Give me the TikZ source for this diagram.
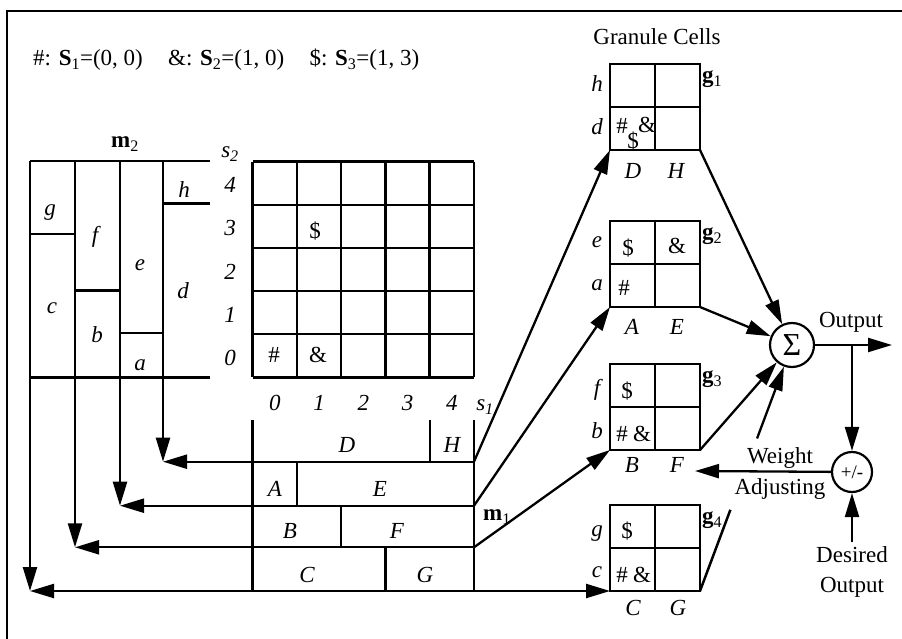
\documentclass[tikz,border=0pt]{standalone}
\usepackage{fontspec}
\setmainfont{Liberation Serif}
\usetikzlibrary{arrows.meta,calc}
\begin{document}
\begin{tikzpicture}[x=1pt,y=-1pt,
  font=\fontsize{23}{27}\selectfont,
  ln/.style={line width=2.5pt},
  thin/.style={line width=1.6pt},
  arr/.style={line width=2.3pt,-{Triangle[length=24pt,width=14pt]}},
  lbl/.style={inner sep=0pt,text height=15pt,text depth=4pt,anchor=center},
  it/.style={lbl,font=\fontsize{23}{27}\selectfont\itshape},
  circ/.style={circle,draw,line width=2.2pt,inner sep=0pt}]
\useasboundingbox (0,0) rectangle (902,639);
% frame
\draw[thin] (902,11) -- (7,11) -- (7,639);
% legend
\node[lbl,anchor=west] (legend) at (33,60) {\#: \textbf{S}\textsubscript{1}=(0, 0)\hspace{1.1em}\&: \textbf{S}\textsubscript{2}=(1, 0)\hspace{1.1em}\$: \textbf{S}\textsubscript{3}=(1, 3)};
% ---------- main grid ----------
\foreach \i in {0,...,5}{
  \draw[ln] (252.7+44.26*\i,161.7) -- (252.7+44.26*\i,377.3);
  \draw[ln] (252.7,161.7+43.12*\i) -- (474,161.7+43.12*\i);
}
\foreach \n/\i in {4/0,3/1,2/2,1/3,0/4}{
  \node[it] (row\n) at (230,183.3+43.12*\i+4) {\n};
  \node[it] (col\n) at (274.8+44.26*\n,405) {\n};
}
\node[it] (s2lbl) at (230,152) {s\textsubscript{2}};
\node[it] (s1lbl) at (485,405) {s\textsubscript{1}};
\node[lbl] (gh) at (274,357) {\#};
\node[lbl] (ga) at (318,357) {\&};
\node[lbl] (gd) at (315,233) {\$};
% ---------- m2 structure ----------
\node[lbl] (m2lbl) at (125,142) {\textbf{m}\textsubscript{2}};
\coordinate (t1) at (163,161);
\coordinate (t2) at (120,161);
\coordinate (t3) at (75,161);
\coordinate (t4) at (30,161);
\draw[ln] (30,161) -- (210,161);
\draw[ln] (30,377.3) -- (210,377.3);
\draw[ln] (163,203.5) -- (210,203.5);
\draw[ln] (30,234) -- (75,234);
\draw[ln] (75,290.7) -- (120,290.7);
\draw[ln] (120,333) -- (163,333);
\node[it] (lg) at (50,210) {g};
\node[it] (lf) at (95,237) {f};
\node[it] (le) at (140,265) {e};
\node[it] (ld) at (183,293) {d};
\node[it] (lh) at (184,192) {h};
\node[it] (lc) at (52,308) {c};
\node[it] (lb) at (97,337) {b};
\node[it] (la) at (140,365) {a};
% ---------- m1 structure ----------
\coordinate (r1) at (474,461.7);
\coordinate (r2) at (474,505.7);
\coordinate (r3) at (474,547.3);
\coordinate (r4) at (474,591);
\coordinate (c1) at (163,461.7);
\coordinate (c2) at (120,505.7);
\coordinate (c3) at (75,547.3);
\coordinate (c4) at (30,591);
\draw[ln] (252.7,420) -- (252.7,591);
\draw[ln] (474,420) -- (474,591);
\draw[ln] (430,420) -- (430,461.7);
\draw[ln] (297,461.7) -- (297,505.7);
\draw[ln] (341.2,505.7) -- (341.2,547.3);
\draw[ln] (385.5,547.3) -- (385.5,591);
\node[it] (lD) at (347,447) {D};
\node[it] (lH) at (452,447) {H};
\node[it] (lA) at (275,491) {A};
\node[it] (lE) at (380,491) {E};
\node[it] (lB) at (290,533) {B};
\node[it] (lF) at (397,533) {F};
\node[it] (lC) at (307,577) {C};
\node[it] (lG) at (425,577) {G};
\node[lbl] (m1lbl) at (497,515) {\textbf{m}\textsubscript{1}};
\draw[arr] (t1) -- (c1);
\draw[arr] (t2) -- (c2);
\draw[arr] (t3) -- (c3);
\draw[arr] (t4) -- (c4);
\draw[arr] (r1) -- (c1);
\draw[arr] (r2) -- (c2);
\draw[arr] (r3) -- (c3);
\draw[arr] (r4) -- (c4);
% ---------- granule cells ----------
\node[lbl] (gc) at (657,39) {Granule Cells};
\foreach \y/\n in {64/1,221/2,364/3,505/4}{
  \draw[ln] (610,\y) rectangle (700,\y+86);
  \draw[ln] (655,\y) -- (655,\y+86);
  \draw[ln] (610,\y+43) -- (700,\y+43);
  \coordinate (g\n bl) at (610,\y+86);
  \coordinate (g\n br) at (700,\y+86);
  \node[lbl,anchor=west] (g\n lbl) at (702,\y+13) {\textbf{g}\textsubscript{\n}};
}
% g1
\node[it] (g1r1) at (597,86) {h};
\node[it] (g1r2) at (597,129) {d};
\node[it] (g1c1) at (633,173) {D};
\node[it] (g1c2) at (676,173) {H};
\node[lbl] (g1x) at (622,128) {\#};
\node[lbl] (g1y) at (633,143) {\$};
\node[lbl] (g1z) at (647,127) {\&};
% g2
\node[it] (g2r1) at (597,242) {e};
\node[it] (g2r2) at (597,285) {a};
\node[it] (g2c1) at (632,329) {A};
\node[it] (g2c2) at (677,329) {E};
\node[lbl] (g2x) at (628,250) {\$};
\node[lbl] (g2y) at (677,248) {\&};
\node[lbl] (g2z) at (624,290) {\#};
% g3
\node[it] (g3r1) at (597,390) {f};
\node[it] (g3r2) at (597,433) {b};
\node[it] (g3c1) at (632,467) {B};
\node[it] (g3c2) at (677,467) {F};
\node[lbl] (g3x) at (627,393) {\$};
\node[lbl] (g3y) at (622,436) {\#};
\node[lbl] (g3z) at (642,436) {\&};
% g4
\node[it] (g4r1) at (597,531) {g};
\node[it] (g4r2) at (597,572) {c};
\node[it] (g4c1) at (633,610) {C};
\node[it] (g4c2) at (678,610) {G};
\node[lbl] (g4x) at (627,533) {\$};
\node[lbl] (g4y) at (622,577) {\#};
\node[lbl] (g4z) at (642,577) {\&};
% m1 -> granule cells
\draw[arr] (r1) -- (g1bl);
\draw[arr] (r2) -- (g2bl);
\draw[arr] (r3) -- (g3bl);
\draw[arr] (r4) -- (g4bl);
% ---------- summation ----------
\node[circ,minimum size=44pt] (sig) at (792,345) {\fontsize{32}{32}\selectfont Σ};
\draw[arr] (g1br) -- (sig);
\draw[arr] (g2br) -- (sig);
\draw[arr] (g3br) -- (sig);
\coordinate (w1) at ($(g4br)!0.33!(sig)$);
\coordinate (w2) at ($(g4br)!0.62!(sig)$);
\draw[ln] (g4br) -- (w1);
\draw[arr] (w2) -- (sig);
\coordinate (outend) at (892,345);
\coordinate (tap) at (852,345);
\draw[arr] (sig) -- (outend);
\node[lbl] (outlbl) at (851,322) {Output};
\node[circ,minimum size=40pt] (pm) at (852,472) {\fontsize{19}{19}\selectfont +/-};
\draw[arr] (tap) -- (pm);
\node[inner sep=0pt,align=center,font=\fontsize{23}{30}\selectfont] (des) at (852,572) {Desired\\Output};
\draw[arr] ($(des.north)+(0,-4)$) -- (pm);
\node[inner sep=0pt,align=center,font=\fontsize{23}{31}\selectfont] (wa) at (780,473) {Weight\\Adjusting};
\coordinate (waend) at (695,471);
\draw[arr] (pm) -- (waend);
\end{tikzpicture}
\end{document}
